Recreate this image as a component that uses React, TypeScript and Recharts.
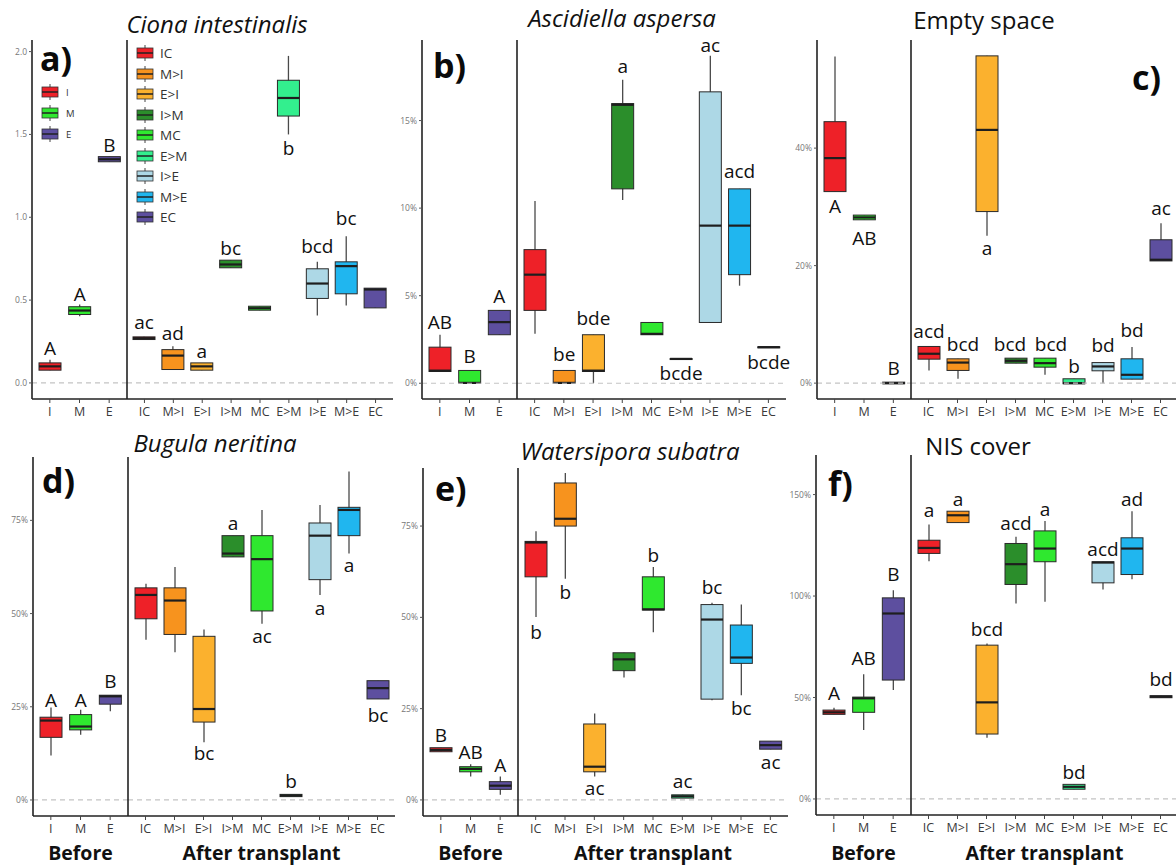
import React from "react";
import { ComposedChart, Bar, XAxis, YAxis, ReferenceLine } from "recharts";

const FONT = "'Open Sans', 'Noto Sans', sans-serif";

const BEFORE = ["I", "M", "E"];
const AFTER = ["IC", "M>I", "E>I", "I>M", "MC", "E>M", "I>E", "M>E", "EC"];
const CATS = [...BEFORE, ...AFTER];

const COLORS: Record<string, string> = {
  I: "#ee2128",
  M: "#2fe82f",
  E: "#5d4f9f",
  IC: "#ee2128",
  "M>I": "#f7931e",
  "E>I": "#fbb12e",
  "I>M": "#2b8e2b",
  MC: "#2fe82f",
  "E>M": "#33ef8e",
  "I>E": "#add8e6",
  "M>E": "#20b6ef",
  EC: "#5d4f9f",
};

// each row: [min, q1, median, q3, max], in CATS order
const cionaStats = [
  [0.077, 0.077, 0.1, 0.121, 0.14],
  [0.403, 0.413, 0.437, 0.46, 0.473],
  [1.335, 1.335, 1.35, 1.366, 1.366],
  [0.262, 0.262, 0.27, 0.278, 0.278],
  [0.081, 0.081, 0.165, 0.201, 0.222],
  [0.077, 0.077, 0.1, 0.121, 0.121],
  [0.695, 0.695, 0.715, 0.741, 0.741],
  [0.439, 0.439, 0.451, 0.463, 0.463],
  [1.5, 1.611, 1.72, 1.827, 1.974],
  [0.407, 0.51, 0.6, 0.689, 0.731],
  [0.467, 0.538, 0.705, 0.731, 0.886],
  [0.453, 0.453, 0.564, 0.572, 0.572],
];
const cionaLetters = ["A", "A", "B", "ac", "ad", "a", "bc", "", "b", "bcd", "bc", ""];
const cionaLetterY = [0.21, 0.534, 1.436, 0.369, 0.302, 0.191, 0.816, 0, 1.42, 0.826, 0.997, 0];

const ascidiellaStats = [
  [0.67, 0.67, 0.72, 2.06, 2.77],
  [0, 0, 0.02, 0.73, 0.73],
  [2.77, 2.77, 3.49, 4.16, 4.16],
  [2.82, 4.16, 6.2, 7.63, 10.4],
  [0, 0, 0.02, 0.73, 0.73],
  [0, 0.67, 0.72, 2.77, 2.77],
  [10.46, 11.1, 15.9, 15.97, 17.33],
  [2.77, 2.77, 2.82, 3.47, 3.47],
  [1.37, 1.37, 1.39, 1.41, 1.41],
  [3.47, 3.47, 9.0, 16.64, 18.7],
  [5.57, 6.2, 9.0, 11.1, 11.1],
  [2.04, 2.04, 2.06, 2.08, 2.08],
];
const ascidiellaLetters = ["AB", "B", "A", "", "be", "bde", "a", "", "bcde", "ac", "acd", "bcde"];
const ascidiellaLetterY = [3.47, 1.56, 5.0, 0, 1.68, 3.72, 18.1, 0, 0.57, 19.33, 12.1, 1.24];

const emptyStats = [
  [32.6, 32.6, 38.3, 44.5, 55.6],
  [27.8, 27.8, 28.2, 28.6, 28.6],
  [-0.1, -0.1, 0, 0.17, 0.17],
  [2.16, 4.08, 5.0, 6.24, 6.24],
  [0.74, 2.16, 3.5, 4.14, 4.14],
  [25.1, 29.2, 43.1, 55.7, 55.7],
  [3.4, 3.4, 3.8, 4.25, 4.25],
  [1.42, 2.72, 3.4, 4.25, 4.25],
  [-0.1, -0.1, 0, 0.74, 0.74],
  [0, 2.1, 2.84, 3.5, 3.5],
  [0.68, 0.68, 1.42, 4.14, 6.13],
  [20.8, 20.8, 21.0, 24.4, 27.2],
];
const emptyLetters = ["A", "AB", "B", "acd", "bcd", "a", "bcd", "bcd", "b", "bd", "bd", "ac"];
const emptyLetterY = [30.1, 24.7, 2.55, 8.8, 6.6, 23.0, 6.6, 6.6, 2.95, 6.5, 9.1, 29.8];

const bugulaStats = [
  [11.9, 16.8, 21.3, 22.2, 24.8],
  [17.5, 18.8, 19.7, 22.9, 24.2],
  [23.8, 25.7, 27.8, 28.1, 28.1],
  [43.0, 48.6, 55.0, 56.9, 58.0],
  [39.6, 44.4, 53.5, 56.9, 62.5],
  [15.5, 20.9, 24.4, 43.9, 45.7],
  [65.2, 65.2, 66.1, 70.9, 70.9],
  [47.3, 50.7, 64.6, 70.9, 77.8],
  [0.9, 0.9, 1.2, 1.5, 1.5],
  [55.0, 59.1, 70.9, 74.3, 79.1],
  [66.1, 70.9, 77.8, 78.5, 88.1],
  [27.1, 27.1, 30.0, 32.0, 32.0],
];
const bugulaLetters = ["A", "A", "B", "", "", "bc", "a", "ac", "b", "a", "a", "bc"];
const bugulaLetterY = [26.9, 26.9, 31.8, 0, 0, 12.7, 74.2, 43.9, 5.1, 51.6, 63.0, 22.9];

const watersiporaStats = [
  [13.2, 13.2, 13.7, 14.3, 14.3],
  [6.4, 7.7, 8.5, 9.1, 9.75],
  [1.4, 2.9, 3.9, 5.0, 6.4],
  [50.1, 61.1, 70.5, 70.8, 73.6],
  [60.6, 75.0, 77.0, 86.8, 89.5],
  [6.4, 7.7, 9.1, 20.8, 23.7],
  [33.5, 35.4, 38.5, 40.3, 40.3],
  [45.9, 52.0, 52.2, 61.1, 63.8],
  [0.5, 0.5, 1.0, 1.4, 1.4],
  [27.3, 27.6, 49.4, 53.5, 54.0],
  [28.7, 37.4, 39.0, 47.9, 53.5],
  [13.9, 13.9, 15.0, 16.1, 16.1],
];
const watersiporaLetters = ["B", "AB", "A", "b", "b", "ac", "", "b", "ac", "bc", "bc", "ac"];
const watersiporaLetterY = [17.8, 13.2, 9.6, 46.0, 57.0, 3.2, 0, 67.0, 5.2, 58.2, 25.1, 10.3];

const nisStats = [
  [41.7, 41.7, 42.7, 43.8, 45.0],
  [34.0, 42.7, 49.6, 50.2, 61.4],
  [53.7, 58.6, 91.4, 99.1, 102.9],
  [117.2, 121.0, 123.7, 127.5, 135.2],
  [136.2, 136.2, 139.8, 141.8, 141.8],
  [30.2, 32.0, 47.6, 75.8, 76.6],
  [96.3, 105.7, 115.7, 125.9, 129.2],
  [97.2, 116.9, 123.4, 132.1, 137.0],
  [4.8, 4.8, 6.0, 7.2, 7.2],
  [103.2, 106.5, 116.5, 116.9, 116.9],
  [108.3, 110.6, 123.4, 128.7, 141.8],
  [49.9, 49.9, 50.4, 50.9, 50.9],
];
const nisLetters = ["A", "AB", "B", "a", "a", "bcd", "acd", "a", "bd", "acd", "ad", "bd"];
const nisLetterY = [52.4, 69.3, 111.1, 142.3, 148.0, 84.0, 136.2, 143.1, 13.1, 123.1, 147.7, 59.1];

const YW = 40; // y axis width
const TM = 14; // top margin
const XH = 28; // x axis height
const RM = 16; // right margin

// whisker + box + median + letter, all placed from the bar's own scaled range [min, max]
const BoxShape = (props: any) => {
  const { x, y, width, height, payload } = props;
  if (!payload) return <g />;
  const [lo, hi] = payload.wh;
  const top = Math.min(y, y + height);
  const h = Math.abs(height);
  const py = (v: number) => top + ((hi - v) / (hi - lo)) * h;
  const cx = x + width / 2;
  const color = COLORS[payload.cat];
  return (
    <g>
      <line x1={cx} x2={cx} y1={py(hi)} y2={py(lo)} stroke="#4a4a4a" strokeWidth={1.3} />
      <rect
        x={x}
        y={py(payload.q3)}
        width={width}
        height={Math.max(py(payload.q1) - py(payload.q3), 1)}
        fill={color}
        stroke="#2a2a2a"
        strokeWidth={1}
      />
      <line x1={x} x2={x + width} y1={py(payload.med)} y2={py(payload.med)} stroke="#1e1e1e" strokeWidth={2.2} />
      {payload.txt ? (
        <text
          x={cx + (payload.dx || 0)}
          y={py(payload.ly)}
          textAnchor="middle"
          dominantBaseline="central"
          fontSize={19}
          fontFamily={FONT}
          fill="#111"
        >
          {payload.txt}
        </text>
      ) : null}
    </g>
  );
};

interface PanelProps {
  title: string;
  italic?: boolean;
  titleX: number;
  titleY: number;
  tag: string;
  tagX: number;
  tagY: number;
  yx: number;
  div: number;
  right: number;
  top: number;
  bottom: number;
  domain: [number, number];
  ticks: number[];
  fmt: (v: number) => string;
  stats: number[][];
  letters: string[];
  letterY: number[];
  nudge?: Record<string, number>;
  strip?: boolean;
}

function Panel(p: PanelProps) {
  const rows = CATS.map((c, i) => ({
    cat: c,
    wh: [p.stats[i][0], p.stats[i][4]],
    q1: p.stats[i][1],
    med: p.stats[i][2],
    q3: p.stats[i][3],
    txt: p.letters[i],
    ly: p.letterY[i],
    dx: p.nudge ? p.nudge[c] || 0 : 0,
  }));
  const before = rows.slice(0, 3);
  const after = rows.slice(3);
  const h = TM + (p.bottom - p.top) + XH;
  const xTick = { fontSize: 12.5, fill: "#3a3a3a", fontFamily: FONT };
  const axisLine = { stroke: "#222", strokeWidth: 1.6 };
  const stripStyle: React.CSSProperties = {
    position: "absolute",
    top: 852,
    transform: "translate(-50%, -50%)",
    fontSize: 19.5,
    fontWeight: 700,
    fontFamily: FONT,
    color: "#111",
    whiteSpace: "nowrap",
  };

  return (
    <>
      <div style={{ position: "absolute", left: p.yx - YW, top: p.top - TM }}>
        <ComposedChart
          width={YW + p.div - p.yx}
          height={h}
          data={before}
          margin={{ top: TM, right: 0, bottom: 0, left: 0 }}
        >
          <XAxis
            dataKey="cat"
            type="category"
            interval={0}
            padding={{ left: 3, right: 3 }}
            height={XH}
            tick={xTick}
            tickSize={4}
            tickMargin={4}
            axisLine={axisLine}
            tickLine={{ stroke: "#444" }}
          />
          <YAxis
            type="number"
            domain={p.domain}
            ticks={p.ticks}
            allowDataOverflow
            width={YW}
            tickFormatter={p.fmt}
            tick={{ fontSize: 8.5, fill: "#777", fontFamily: FONT }}
            tickSize={3}
            tickMargin={2}
            axisLine={axisLine}
            tickLine={{ stroke: "#555" }}
          />
          <ReferenceLine y={0} stroke="#c4c4c4" strokeDasharray="5 4" strokeWidth={1.2} />
          <Bar dataKey="wh" barSize={22} isAnimationActive={false} shape={BoxShape} />
        </ComposedChart>
      </div>
      <div style={{ position: "absolute", left: p.div - 1, top: p.top - TM }}>
        <ComposedChart
          width={1 + p.right - p.div + RM}
          height={h}
          data={after}
          margin={{ top: TM, right: RM, bottom: 0, left: 0 }}
        >
          <XAxis
            dataKey="cat"
            type="category"
            interval={0}
            padding={{ left: 3, right: 3 }}
            height={XH}
            tick={xTick}
            tickSize={4}
            tickMargin={4}
            axisLine={axisLine}
            tickLine={{ stroke: "#444" }}
          />
          <YAxis
            type="number"
            domain={p.domain}
            ticks={p.ticks}
            allowDataOverflow
            width={1}
            tick={false}
            tickLine={false}
            axisLine={axisLine}
          />
          <ReferenceLine y={0} stroke="#c4c4c4" strokeDasharray="5 4" strokeWidth={1.2} />
          <Bar dataKey="wh" barSize={22} isAnimationActive={false} shape={BoxShape} />
        </ComposedChart>
      </div>
      <div
        style={{
          position: "absolute",
          left: p.titleX,
          top: p.titleY,
          transform: "translate(-50%, -50%)",
          fontSize: 24,
          fontStyle: p.italic ? "italic" : "normal",
          fontFamily: FONT,
          color: "#111",
          whiteSpace: "nowrap",
        }}
      >
        {p.title}
      </div>
      <div
        style={{
          position: "absolute",
          left: p.tagX,
          top: p.tagY,
          transform: "translateY(-50%)",
          fontSize: 34,
          fontWeight: 700,
          fontFamily: FONT,
          color: "#0a0a0a",
          whiteSpace: "nowrap",
        }}
      >
        {p.tag}
      </div>
      {p.strip ? (
        <>
          <div style={{ ...stripStyle, left: (p.yx + p.div) / 2 }}>Before</div>
          <div style={{ ...stripStyle, left: (p.div + p.right) / 2 }}>After transplant</div>
        </>
      ) : null}
    </>
  );
}

const LegendIcon = ({ color }: { color: string }) => (
  <svg width={18} height={16} style={{ display: "block" }}>
    <line x1={9} x2={9} y1={0} y2={16} stroke="#444" strokeWidth={1} />
    <rect x={1} y={3} width={16} height={10} fill={color} stroke="#333" strokeWidth={0.8} />
    <line x1={1} x2={17} y1={8} y2={8} stroke="#222" strokeWidth={1.5} />
  </svg>
);

function CionaLegend() {
  return (
    <>
      {BEFORE.map((c, i) => (
        <div
          key={c}
          style={{ position: "absolute", left: 41, top: 84 + i * 21, display: "flex", alignItems: "center", gap: 7 }}
        >
          <LegendIcon color={COLORS[c]} />
          <span style={{ fontSize: 9.5, fontFamily: FONT, color: "#333" }}>{c}</span>
        </div>
      ))}
      {AFTER.map((c, i) => (
        <div
          key={c}
          style={{ position: "absolute", left: 136, top: 44 + i * 20.5, display: "flex", alignItems: "center", gap: 6 }}
        >
          <LegendIcon color={COLORS[c]} />
          <span style={{ fontSize: 13.5, fontFamily: FONT, color: "#333" }}>{c}</span>
        </div>
      ))}
    </>
  );
}

const pct = (v: number) => `${v}%`;

export default function App() {
  return (
    <div
      style={{
        position: "absolute",
        left: 0,
        top: 0,
        width: 1176,
        height: 865,
        overflow: "hidden",
        background: "#fff",
        fontFamily: FONT,
      }}
    >
      <Panel
        title="Ciona intestinalis"
        italic
        titleX={217}
        titleY={23}
        tag="a)"
        tagX={40}
        tagY={58}
        yx={32}
        div={127}
        right={393}
        top={40}
        bottom={399}
        domain={[-0.097, 2.07]}
        ticks={[0, 0.5, 1, 1.5, 2]}
        fmt={(v) => v.toFixed(1)}
        stats={cionaStats}
        letters={cionaLetters}
        letterY={cionaLetterY}
      />
      <CionaLegend />
      <Panel
        title="Ascidiella aspersa"
        italic
        titleX={622}
        titleY={17}
        tag="b)"
        tagX={433}
        tagY={65}
        yx={422}
        div={517}
        right={786}
        top={40}
        bottom={399}
        domain={[-0.9, 19.6]}
        ticks={[0, 5, 10, 15]}
        fmt={pct}
        stats={ascidiellaStats}
        letters={ascidiellaLetters}
        letterY={ascidiellaLetterY}
      />
      <Panel
        title="Empty space"
        titleX={984}
        titleY={19}
        tag="c)"
        tagX={1132}
        tagY={77}
        yx={817}
        div={911}
        right={1178}
        top={40}
        bottom={399}
        domain={[-2.7, 58.4]}
        ticks={[0, 20, 40]}
        fmt={pct}
        stats={emptyStats}
        letters={emptyLetters}
        letterY={emptyLetterY}
        nudge={{ "M>I": 5, "I>M": -6, MC: 6 }}
      />
      <Panel
        title="Bugula neritina"
        italic
        titleX={215}
        titleY={442}
        tag="d)"
        tagX={42}
        tagY={480}
        yx={33}
        div={128}
        right={395}
        top={457}
        bottom={816}
        domain={[-4.3, 92]}
        ticks={[0, 25, 50, 75]}
        fmt={pct}
        stats={bugulaStats}
        letters={bugulaLetters}
        letterY={bugulaLetterY}
        strip
      />
      <Panel
        title="Watersipora subatra"
        italic
        titleX={630}
        titleY={450}
        tag="e)"
        tagX={435}
        tagY={488}
        yx={423}
        div={518}
        right={788}
        top={468}
        bottom={816}
        domain={[-4.4, 90.9]}
        ticks={[0, 25, 50, 75]}
        fmt={pct}
        stats={watersiporaStats}
        letters={watersiporaLetters}
        letterY={watersiporaLetterY}
        strip
      />
      <Panel
        title="NIS cover"
        titleX={978}
        titleY={445}
        tag="f)"
        tagX={828}
        tagY={483}
        yx={816}
        div={911}
        right={1178}
        top={455}
        bottom={815}
        domain={[-7.9, 169.5]}
        ticks={[0, 50, 100, 150]}
        fmt={pct}
        stats={nisStats}
        letters={nisLetters}
        letterY={nisLetterY}
        strip
      />
    </div>
  );
}
